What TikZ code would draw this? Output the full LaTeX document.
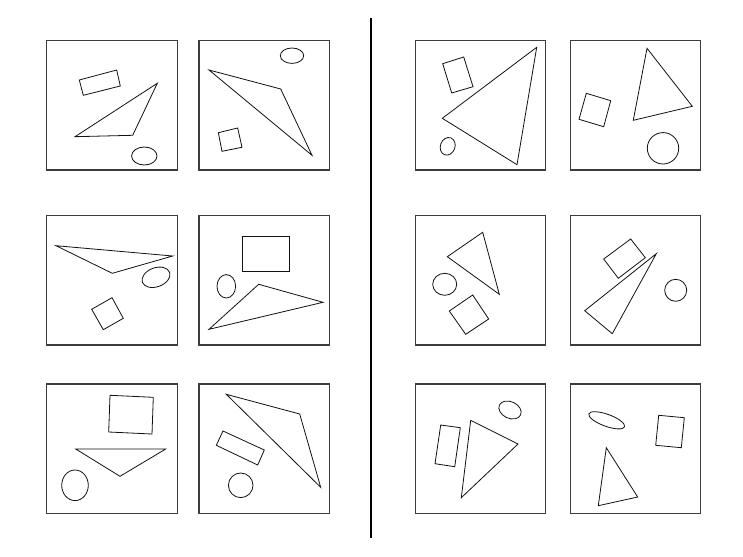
\documentclass[tikz,border=0pt]{standalone}
\usepackage{xcolor}
\usepackage{tikz}
\definecolor{FrameGray}{HTML}{3C3C3C}
\definecolor{ShapeInk} {HTML}{111111}

\begin{document}
\begin{tikzpicture}[x=1pt,y=-1pt,
    panel/.style={draw=FrameGray,line width=1.1pt},
    figline/.style={draw=ShapeInk,line width=0.8pt,line join=miter},
    divider/.style={draw=black,line width=1.8pt}]
    \useasboundingbox (0,0) rectangle (743,556);
    % Panel frames
    \foreach \px/\py in {46.7/40.7, 199/40.7, 415.3/40.7, 570.3/40.7,
                         46.7/215.7, 199/215.7, 415.3/215.7, 570.3/215.7,
                         46.7/384, 199/384, 415.3/384, 570.3/384}{
      \draw[panel] (\px,\py) rectangle ++(130.5,129.3);
    }
    % Divider
    \draw[divider] (371,18) -- (371,538);

    % Left, row 1
    \draw[figline] (79.3,80) -- (116.7,70) -- (120.3,86) -- (83.3,95.3) -- cycle;
    \draw[figline] (75,136.7) -- (157.3,83.3) -- (132.7,135.3) -- cycle;
    \draw[figline] (144.3,156) ellipse [x radius=12.7, y radius=9];
    \draw[figline] (292,55.7) ellipse [x radius=11.7, y radius=7.7];
    \draw[figline] (209,70) -- (280.7,89) -- (312,155.3) -- cycle;
    \draw[figline] (218.3,132.7) -- (237.7,128) -- (242,147.3) -- (222,151.3) -- cycle;

    % Left, row 2
    \draw[figline] (56,245.7) -- (172.7,256) -- (112.3,273.3) -- cycle;
    \draw[figline,rotate around={20:(156,277.3)}] (156,277.3) ellipse [x radius=14.5, y radius=9.5];
    \draw[figline] (91.7,309.3) -- (112,297.7) -- (123.3,318.3) -- (103.3,329.7) -- cycle;
    \draw[figline] (242.3,236) rectangle (289.7,271.7);
    \draw[figline] (226.3,286.3) ellipse [x radius=9.3, y radius=11.7];
    \draw[figline] (258.7,284.3) -- (323,302.3) -- (209,329.3) -- cycle;

    % Left, row 3
    \draw[figline] (110,395.3) -- (153.3,397.3) -- (152,434) -- (108.7,432) -- cycle;
    \draw[figline] (75.7,449) -- (165.7,449) -- (120,476.3) -- cycle;
    \draw[figline] (75,485.3) ellipse [x radius=13.3, y radius=15.3];
    \draw[figline] (226.3,394.3) -- (299.7,414) -- (320.7,487.3) -- cycle;
    \draw[figline] (223,431) -- (264.3,450) -- (257.7,465) -- (216.3,445.3) -- cycle;
    \draw[figline] (240.7,485.3) circle [radius=12.3];

    % Right, row 1
    \draw[figline] (442.7,63.7) -- (463.7,57) -- (473,86.7) -- (451.7,93) -- cycle;
    \draw[figline] (536.7,47.3) -- (442.3,118.3) -- (517,164.7) -- cycle;
    \draw[figline,rotate around={-20:(447.7,146.3)}] (447.7,146.3) ellipse [x radius=7.3, y radius=9];
    \draw[figline] (586.3,93.3) -- (610.7,100.7) -- (603.7,126.7) -- (579,119.3) -- cycle;
    \draw[figline] (647,48.3) -- (692.3,106.3) -- (633.3,120.3) -- cycle;
    \draw[figline] (663,148.3) circle [radius=15.7];

    % Right, row 2
    \draw[figline] (447.3,256.7) -- (482.7,232.3) -- (499.3,294.3) -- cycle;
    \draw[figline] (444.7,284.3) ellipse [x radius=12, y radius=11];
    \draw[figline] (449.3,311) -- (472.7,295) -- (488.7,319) -- (465.7,334.3) -- cycle;
    \draw[figline] (603.7,259) -- (630.7,239) -- (645.3,257.7) -- (618.3,278.3) -- cycle;
    \draw[figline] (656.3,253.7) -- (584.7,310.7) -- (612.3,333.7) -- cycle;
    \draw[figline] (675.7,290.3) circle [radius=11];

    % Right, row 3
    \draw[figline,rotate around={-25:(510,410)}] (510,410) ellipse [x radius=11.7, y radius=8.3];
    \draw[figline] (440.7,425) -- (460.3,427.7) -- (454.7,466.7) -- (435,463.7) -- cycle;
    \draw[figline] (470.7,420.3) -- (518,444) -- (461.3,497.7) -- cycle;
    \draw[figline,rotate around={-20:(606.7,420.3)}] (606.7,420.3) ellipse [x radius=19, y radius=6];
    \draw[figline] (658.7,415.3) -- (684.3,417.7) -- (681.3,447.7) -- (655.7,445.3) -- cycle;
    \draw[figline] (606.3,447.7) -- (637.7,497) -- (598.3,505.7) -- cycle;
  \end{tikzpicture}
\end{document}
